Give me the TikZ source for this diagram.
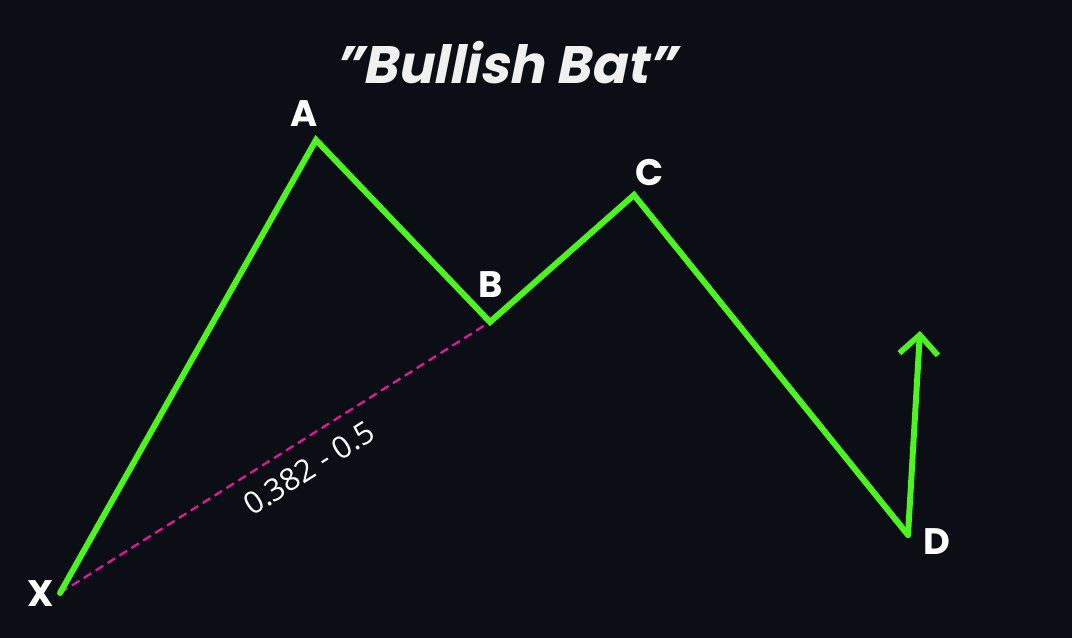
\documentclass[tikz,border=0pt]{standalone}
\usepackage{fontspec}
\setmainfont{Poppins}
\newfontfamily\ratiofont{Open Sans}
\usetikzlibrary{arrows.meta, positioning}
\definecolor{bgdark}{HTML}{0B0E14}
\definecolor{legGreen}{HTML}{4CF520}
\definecolor{ratioPink}{HTML}{E0189E}
\tikzset{
  leg/.style={color=legGreen, line width=3.4pt, line cap=round, line join=miter},
  ratioline/.style={color=ratioPink, line width=1.3pt, dash pattern=on 5pt off 3pt},
  pointlabel/.style={text=white, font=\fontsize{21}{24}\selectfont\bfseries, inner sep=0pt}
}
\begin{document}
\begin{tikzpicture}[x=0.02cm,y=-0.02cm]
\fill[bgdark] (0,0) rectangle (1072,638);
\useasboundingbox (0,0) rectangle (1072,638);
% pattern points
\coordinate (X) at (60,593);
\coordinate (A) at (316,140);
\coordinate (B) at (490,322);
\coordinate (C) at (634,195);
\coordinate (D) at (908,535);
\coordinate (Dtip) at (920,331);
% title
\node[text=white!94!black, font=\fontsize{30}{36}\selectfont\bfseries\addfontfeature{FakeSlant=0.2}] (title) at (505,63) {\symbol{"22}Bullish Bat\symbol{"22}};
% ratio line X -> B
\draw[ratioline] (X) -- node[pos=0.545, below=5pt, sloped, text=white, font=\ratiofont\fontsize{17.5}{20}\selectfont] (ratio) {0.382 - 0.5} (B);
% legs
\draw[leg] (X) -- (A) -- (B) -- (C) -- (D);
\draw[leg, -{Straight Barb[length=11pt, width=22pt, line width=3.2pt]}] (D) -- (Dtip);
% labels
\node[pointlabel] (labX) at (41,594) {X};
\node[pointlabel] (labA) at (304,114) {A};
\node[pointlabel] (labB) at (491,285) {B};
\node[pointlabel] (labC) at (650,172) {C};
\node[pointlabel] (labD) at (937,542) {D};
\end{tikzpicture}
\end{document}
